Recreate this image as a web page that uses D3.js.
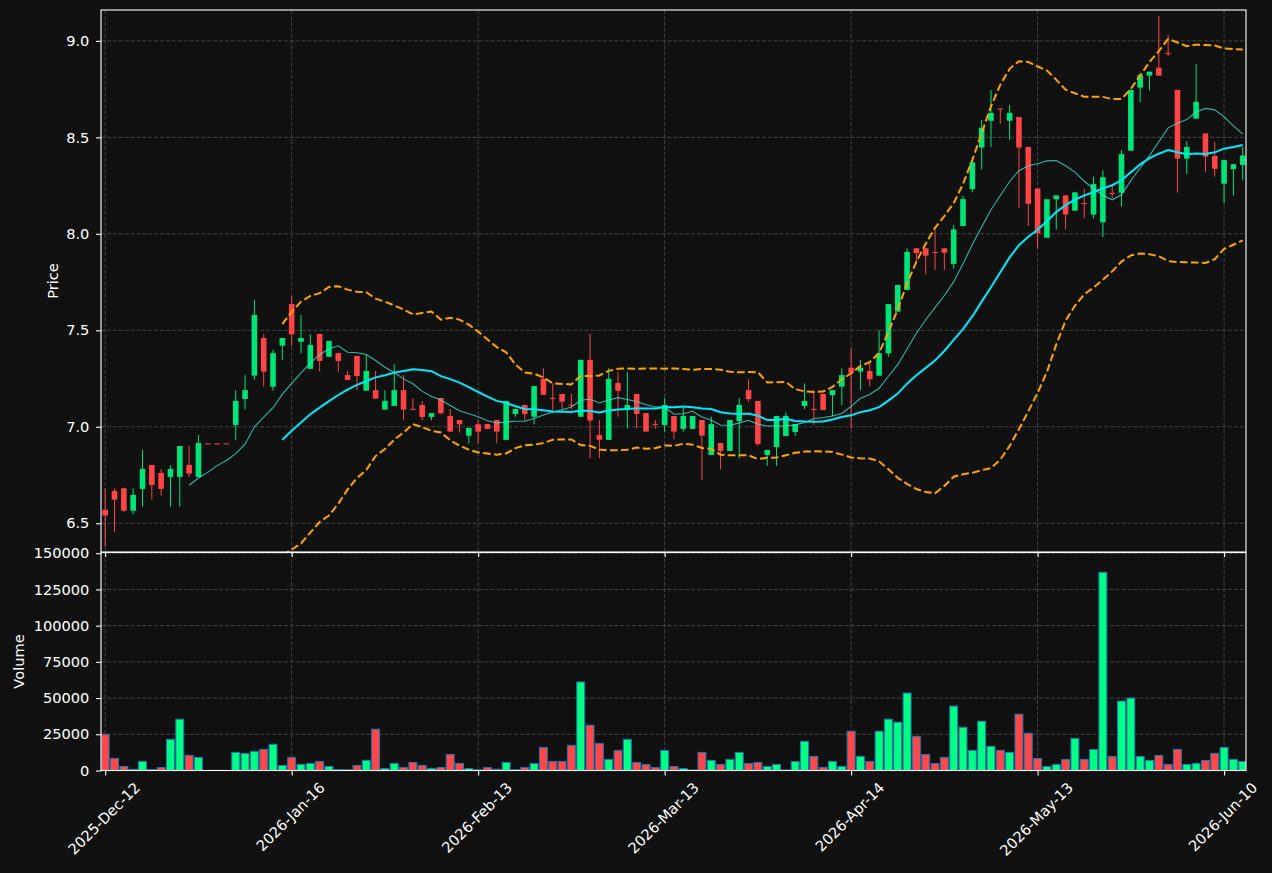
<!DOCTYPE html>
<html>
<head>
<meta charset="utf-8">
<script src="https://cdn.jsdelivr.net/npm/d3@7"></script>
<style>
  html, body { margin: 0; padding: 0; background: #111111; }
  svg { display: block; }
  text { font-family: "DejaVu Sans", sans-serif; fill: #ffffff; }
</style>
</head>
<body>
<svg id="chart" width="1272" height="873"></svg>
<script>
// ---------------- DATA ----------------
const tickIndex = [0, 20, 40, 60, 80, 100, 120];
const tickLabels = ["2025-Dec-12", "2026-Jan-16", "2026-Feb-13", "2026-Mar-13", "2026-Apr-14", "2026-May-13", "2026-Jun-10"];

const opens = [6.57, 6.667, 6.681, 6.565, 6.678, 6.802, 6.761, 6.74, 6.74, 6.802,
  6.74, 6.914, 6.914, 6.914, 7.009, 7.144, 7.265, 7.46, 7.208, 7.42,
  7.636, 7.441, 7.30, 7.481, 7.363, 7.382, 7.268, 7.367, 7.187, 7.19,
  7.089, 7.108, 7.19, 7.093, 7.113, 7.051, 7.149, 7.056, 7.035, 6.954,
  7.013, 7.014, 7.035, 6.932, 7.066, 7.113, 7.052, 7.248, 7.15, 7.17,
  7.115, 7.052, 7.347, 6.957, 6.932, 7.227, 7.092, 7.17, 7.071, 7.015,
  7.009, 7.056, 6.989, 6.989, 7.035, 6.854, 6.916, 6.875, 7.03, 7.19,
  7.134, 6.854, 6.895, 6.952, 6.973, 7.108, 7.093, 7.17, 7.164, 7.208,
  7.306, 7.286, 7.289, 7.265, 7.381, 7.597, 7.709, 7.925, 7.925, 7.906,
  7.925, 7.844, 8.04, 8.232, 8.447, 8.586, 8.649, 8.586, 8.605, 8.45,
  8.235, 7.98, 8.179, 8.199, 8.12, 8.16, 8.1, 8.06, 8.212, 8.213,
  8.431, 8.758, 8.82, 8.861, 8.938, 8.746, 8.39, 8.597, 8.52, 8.403,
  8.26, 8.336, 8.357];
const highs = [6.68, 6.681, 6.685, 6.681, 6.88, 6.802, 6.781, 6.80, 6.90, 6.90,
  6.957, 6.914, 6.914, 6.914, 7.19, 7.269, 7.657, 7.479, 7.40, 7.46,
  7.678, 7.579, 7.479, 7.481, 7.445, 7.382, 7.29, 7.367, 7.372, 7.29,
  7.19, 7.324, 7.268, 7.148, 7.134, 7.071, 7.149, 7.091, 7.035, 6.994,
  7.035, 7.014, 7.035, 7.134, 7.092, 7.113, 7.211, 7.303, 7.225, 7.17,
  7.17, 7.347, 7.481, 7.035, 7.303, 7.285, 7.285, 7.17, 7.071, 7.035,
  7.148, 7.056, 7.104, 7.056, 7.035, 7.052, 6.916, 7.035, 7.148, 7.246,
  7.134, 6.88, 7.056, 7.073, 7.014, 7.225, 7.19, 7.17, 7.19, 7.303,
  7.407, 7.346, 7.332, 7.50, 7.636, 7.735, 7.925, 7.925, 7.925, 8.02,
  7.925, 8.047, 8.197, 8.395, 8.59, 8.745, 8.649, 8.668, 8.605, 8.45,
  8.235, 8.179, 8.199, 8.199, 8.215, 8.232, 8.297, 8.33, 8.25, 8.434,
  8.746, 8.824, 8.84, 9.13, 9.03, 8.746, 8.48, 8.88, 8.52, 8.477,
  8.382, 8.361, 8.45];
const lows = [6.38, 6.453, 6.56, 6.547, 6.586, 6.621, 6.643, 6.586, 6.586, 6.74,
  6.74, 6.914, 6.914, 6.914, 6.93, 7.09, 7.243, 7.208, 7.187, 7.346,
  7.42, 7.381, 7.30, 7.286, 7.363, 7.286, 7.243, 7.19, 7.187, 7.146,
  7.089, 7.108, 7.034, 7.089, 7.034, 7.034, 7.065, 6.975, 6.97, 6.914,
  6.914, 6.989, 6.914, 6.932, 7.052, 7.035, 7.013, 7.166, 7.087, 7.092,
  7.09, 7.052, 6.837, 6.837, 6.932, 7.052, 6.992, 6.992, 6.975, 6.99,
  6.975, 6.935, 6.975, 6.989, 6.724, 6.854, 6.78, 6.875, 6.837, 7.13,
  6.9, 6.797, 6.797, 6.952, 6.952, 7.091, 7.009, 7.087, 7.056, 7.113,
  6.992, 7.19, 7.21, 7.265, 7.363, 7.597, 7.709, 7.847, 7.79, 7.813,
  7.813, 7.82, 8.04, 8.215, 8.334, 8.45, 8.57, 8.486, 8.135, 8.04,
  7.925, 7.98, 8.023, 8.023, 8.12, 8.08, 8.08, 7.984, 8.185, 8.14,
  8.431, 8.682, 8.742, 8.82, 8.92, 8.213, 8.31, 8.597, 8.32, 8.296,
  8.157, 8.199, 8.28];
const closes = [6.54, 6.622, 6.565, 6.647, 6.781, 6.698, 6.678, 6.781, 6.90, 6.757,
  6.916, 6.914, 6.914, 6.914, 7.134, 7.19, 7.579, 7.286, 7.382, 7.46,
  7.479, 7.46, 7.424, 7.341, 7.445, 7.341, 7.243, 7.263, 7.289, 7.146,
  7.134, 7.19, 7.089, 7.089, 7.051, 7.071, 7.07, 6.975, 7.013, 6.994,
  6.975, 6.989, 6.975, 7.134, 7.092, 7.066, 7.211, 7.166, 7.146, 7.13,
  7.111, 7.347, 7.032, 6.933, 7.248, 7.187, 7.113, 7.066, 6.975, 7.011,
  7.113, 6.975, 7.056, 7.056, 6.954, 7.014, 6.875, 7.035, 7.113, 7.144,
  6.911, 6.88, 7.056, 7.056, 7.014, 7.134, 7.089, 7.087, 7.19, 7.268,
  7.28, 7.306, 7.246, 7.381, 7.636, 7.735, 7.906, 7.90, 7.887, 7.902,
  7.902, 8.023, 8.18, 8.37, 8.55, 8.627, 8.645, 8.627, 8.447, 8.156,
  8.002, 8.179, 8.199, 8.1, 8.215, 8.155, 8.258, 8.293, 8.208, 8.413,
  8.746, 8.824, 8.84, 8.82, 8.934, 8.39, 8.45, 8.684, 8.40, 8.337,
  8.382, 8.361, 8.406];
const volumes = [25000, 8330, 2780, 800, 6250, 700, 2080, 21530, 35420, 10400,
  9030, 0, 0, 0, 12500, 11800, 13200, 14600, 18060, 3470,
  9030, 4170, 4860, 6250, 2780, 700, 460, 3470, 6950, 28470,
  1390, 4860, 2080, 5560, 3470, 1390, 2080, 11110, 4860, 1390,
  500, 2080, 900, 5560, 460, 2080, 4860, 15970, 6250, 6250,
  17360, 61120, 31250, 18750, 7640, 13890, 21530, 5560, 4170, 2080,
  13890, 2780, 1390, 300, 12500, 6950, 4170, 7640, 12500, 4860,
  5560, 2780, 4170, 300, 6250, 20140, 9720, 2080, 6250, 2780,
  27090, 9720, 6250, 27090, 35420, 33340, 53480, 23610, 11110, 4860,
  9030, 44450, 29860, 13890, 34030, 16670, 13890, 12500, 38890, 25700,
  8330, 2780, 4170, 7640, 22220, 7640, 14580, 136820, 9720, 47920,
  50000, 9720, 6950, 10420, 4170, 14580, 4170, 4860, 6950, 11810,
  15970, 7640, 6250];
const priceTicks = [6.5, 7.0, 7.5, 8.0, 8.5, 9.0];
const volumeTicks = [0, 25000, 50000, 75000, 100000, 125000, 150000];

// ---------------- INDICATORS (derived from closes) ----------------
function sma(arr, n) {
  return arr.map((_, i) => i < n - 1 ? null : d3.mean(arr.slice(i - n + 1, i + 1)));
}
function band(arr, n, k, sign) {
  return arr.map((_, i) => {
    if (i < n - 1) return null;
    const w = arr.slice(i - n + 1, i + 1);
    const m = d3.mean(w);
    const sd = Math.sqrt(d3.mean(w.map(v => (v - m) * (v - m))));
    return m + sign * k * sd;
  });
}
const ma10 = sma(closes, 10);
const ma20 = sma(closes, 20);
const bbUp = band(closes, 20, 2, 1);
const bbLo = band(closes, 20, 2, -1);

// ---------------- LAYOUT ----------------
const L = 101, R = 1246;
const pTop = 10, pBot = 552;
const vTop = 552.5, vBot = 770.5;
const svg = d3.select("#chart");
svg.append("rect").attr("width", 1272).attr("height", 873).attr("fill", "#111111");

const n = closes.length;
const x = d3.scaleLinear().domain([-0.45, n - 0.65]).range([L, R]);
const y = d3.scaleLinear().domain([6.351, 9.160]).range([pBot, pTop]);
const yv = d3.scaleLinear().domain([0, 150500]).range([vBot, vTop]);
const step = x(1) - x(0);

const up = "#00e676", down = "#ff4444";
const volUp = "#00ff80", volDown = "#ff4747";
const gridColor = "#444444";
const fs = 14.6;

svg.append("defs").append("clipPath").attr("id", "clipP")
  .append("rect").attr("x", L).attr("y", pTop).attr("width", R - L).attr("height", pBot - pTop);
svg.select("defs").append("clipPath").attr("id", "clipV")
  .append("rect").attr("x", L).attr("y", vTop).attr("width", R - L).attr("height", vBot - vTop);

// grids
const grid = svg.append("g").attr("stroke", gridColor).attr("stroke-width", 1).attr("stroke-dasharray", "4.1,1.8");
priceTicks.forEach(t => grid.append("line").attr("x1", L).attr("x2", R).attr("y1", y(t)).attr("y2", y(t)));
volumeTicks.forEach(t => grid.append("line").attr("x1", L).attr("x2", R).attr("y1", yv(t)).attr("y2", yv(t)));
tickIndex.forEach(i => {
  grid.append("line").attr("x1", x(i)).attr("x2", x(i)).attr("y1", pTop).attr("y2", pBot);
  grid.append("line").attr("x1", x(i)).attr("x2", x(i)).attr("y1", vTop).attr("y2", vBot);
});

// candles
const idx = d3.range(n);
const gP = svg.append("g").attr("clip-path", "url(#clipP)");
const isUp = i => closes[i] > opens[i];
gP.selectAll("line.wick").data(idx).join("line")
  .attr("x1", i => x(i)).attr("x2", i => x(i))
  .attr("y1", i => y(highs[i])).attr("y2", i => y(lows[i]))
  .attr("stroke", i => isUp(i) ? up : down).attr("stroke-width", 1);
const bw = step * 0.6;
gP.selectAll("rect.body").data(idx).join("rect")
  .attr("x", i => x(i) - bw / 2).attr("width", bw)
  .attr("y", i => y(Math.max(opens[i], closes[i])))
  .attr("height", i => Math.max(1, Math.abs(y(opens[i]) - y(closes[i]))))
  .attr("fill", i => isUp(i) ? up : down);

// lines
const lineGen = d3.line().defined(d => d[1] !== null).x(d => x(d[0])).y(d => y(d[1]));
const toPts = arr => arr.map((v, i) => [i, v]);
gP.append("path").attr("d", lineGen(toPts(bbUp))).attr("fill", "none")
  .attr("stroke", "#ffa500").attr("stroke-width", 2).attr("stroke-dasharray", "7.7,3.3");
gP.append("path").attr("d", lineGen(toPts(bbLo))).attr("fill", "none")
  .attr("stroke", "#ffa500").attr("stroke-width", 2).attr("stroke-dasharray", "7.7,3.3");
gP.append("path").attr("d", lineGen(toPts(ma10))).attr("fill", "none")
  .attr("stroke", "#40e0d0").attr("stroke-opacity", 0.8).attr("stroke-width", 1.1);
gP.append("path").attr("d", lineGen(toPts(ma20))).attr("fill", "none")
  .attr("stroke", "#00eaff").attr("stroke-width", 2);

// volume bars
const gV = svg.append("g").attr("clip-path", "url(#clipV)");
const vbw = step * 0.85;
gV.selectAll("rect.vol").data(idx).join("rect")
  .attr("x", i => x(i) - vbw / 2).attr("width", vbw)
  .attr("y", i => yv(volumes[i])).attr("height", i => yv(0) - yv(volumes[i]))
  .attr("fill", i => isUp(i) ? volUp : volDown)
  .attr("stroke", "#1f77b4").attr("stroke-width", 1);

// spines
svg.append("rect").attr("x", L).attr("y", pTop).attr("width", R - L).attr("height", pBot - pTop)
  .attr("fill", "none").attr("stroke", "#ffffff").attr("stroke-width", 1.1);
svg.append("rect").attr("x", L).attr("y", vTop).attr("width", R - L).attr("height", vBot - vTop)
  .attr("fill", "none").attr("stroke", "#ffffff").attr("stroke-width", 1.1);

// axes
function styleAxis(g) {
  g.select(".domain").remove();
  g.selectAll(".tick line").attr("stroke", "#ffffff").attr("stroke-width", 1.1);
  g.selectAll(".tick text").attr("fill", "#ffffff").style("font-size", fs + "px")
    .style("font-family", "'DejaVu Sans', sans-serif");
}
svg.append("g").attr("transform", `translate(${L},0)`)
  .call(d3.axisLeft(y).tickValues(priceTicks).tickFormat(d3.format(".1f")).tickSize(4.9).tickPadding(6.7))
  .call(styleAxis);
svg.append("g").attr("transform", `translate(${L},0)`)
  .call(d3.axisLeft(yv).tickValues(volumeTicks).tickFormat(d3.format("d")).tickSize(4.9).tickPadding(6.7))
  .call(styleAxis);
svg.append("g").attr("transform", `translate(0,${pBot})`)
  .call(d3.axisBottom(x).tickValues(tickIndex).tickFormat("").tickSize(4.9))
  .call(styleAxis);
svg.append("g").attr("transform", `translate(0,${vBot})`)
  .call(d3.axisBottom(x).tickValues(tickIndex).tickFormat("").tickSize(4.9))
  .call(styleAxis);

// rotated x labels (centered, 45deg)
tickIndex.forEach((ti, k) => {
  const t = svg.append("text").text(tickLabels[k])
    .style("font-size", fs + "px").attr("text-anchor", "middle").attr("dominant-baseline", "central");
  const w = t.node().getComputedTextLength();
  const H = (w + fs * 1.15) * Math.SQRT1_2;
  t.attr("transform", `translate(${x(ti) - 1.5},${vBot + 8.4 + H / 2}) rotate(-45)`);
});

// axis titles
svg.append("text").text("Price").style("font-size", fs + "px").attr("text-anchor", "middle")
  .attr("dominant-baseline", "central")
  .attr("transform", `translate(52,${(pTop + pBot) / 2}) rotate(-90)`);
svg.append("text").text("Volume").style("font-size", fs + "px").attr("text-anchor", "middle")
  .attr("dominant-baseline", "central")
  .attr("transform", `translate(18,${(vTop + vBot) / 2}) rotate(-90)`);
</script>
</body>
</html>
